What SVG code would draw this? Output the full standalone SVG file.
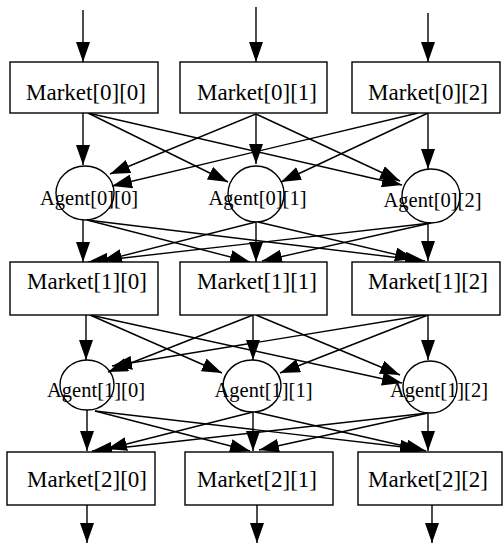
<svg xmlns="http://www.w3.org/2000/svg" width="503" height="549" viewBox="0 0 503 549">
<style>
.box{fill:#fff;stroke:#000;stroke-width:1.4}
.ag{fill:none;stroke:#000;stroke-width:1.4}
.mt{font-family:"Liberation Serif","Times New Roman",serif;font-size:23px;text-anchor:middle;fill:#000}
.at{font-family:"Liberation Serif","Times New Roman",serif;font-size:20.5px;text-anchor:middle;fill:#000}
.c line{stroke:#000;stroke-width:1.4;marker-end:url(#ah)}
</style>
<defs>
<marker id="ah" markerUnits="userSpaceOnUse" markerWidth="21" markerHeight="14" refX="20" refY="7" orient="auto">
<path d="M0,0 L20,7 L0,14 z" fill="#000"/>
</marker>
</defs>
<rect width="503" height="549" fill="#fff"/>
<g id="connectors" class="c">
<line x1="83" y1="10" x2="83" y2="62"/>
<line x1="256" y1="7" x2="256" y2="62"/>
<line x1="428" y1="13" x2="428" y2="62"/>
<line x1="83" y1="113" x2="83" y2="165"/>
<line x1="88" y1="113" x2="228" y2="182"/>
<line x1="88" y1="113" x2="402" y2="185"/>
<line x1="256" y1="114" x2="110" y2="174"/>
<line x1="256" y1="114" x2="256" y2="164"/>
<line x1="256" y1="114" x2="400" y2="181"/>
<line x1="418" y1="113" x2="112" y2="186"/>
<line x1="428" y1="113" x2="281" y2="182"/>
<line x1="428" y1="113" x2="428" y2="169"/>
<line x1="83" y1="220" x2="83" y2="262"/>
<line x1="87" y1="220" x2="250" y2="262"/>
<line x1="87" y1="220" x2="425" y2="261"/>
<line x1="256" y1="222" x2="102" y2="261"/>
<line x1="256" y1="222" x2="256" y2="262"/>
<line x1="258" y1="222" x2="415" y2="259"/>
<line x1="431" y1="223" x2="88" y2="262"/>
<line x1="431" y1="223" x2="262" y2="261"/>
<line x1="428" y1="223" x2="428" y2="261"/>
<line x1="86" y1="315" x2="86" y2="360"/>
<line x1="90" y1="315" x2="222" y2="373"/>
<line x1="90" y1="315" x2="402" y2="383"/>
<line x1="253" y1="315" x2="108" y2="372"/>
<line x1="253" y1="315" x2="253" y2="360"/>
<line x1="256" y1="315" x2="400" y2="375"/>
<line x1="425" y1="315" x2="112" y2="366"/>
<line x1="428" y1="315" x2="280" y2="373"/>
<line x1="428" y1="315" x2="428" y2="360"/>
<line x1="87" y1="410" x2="87" y2="451"/>
<line x1="95" y1="411" x2="250" y2="451"/>
<line x1="95" y1="411" x2="420" y2="449"/>
<line x1="253" y1="412" x2="107" y2="449"/>
<line x1="253" y1="412" x2="253" y2="451"/>
<line x1="255" y1="412" x2="426" y2="451"/>
<line x1="428" y1="413" x2="92" y2="451"/>
<line x1="428" y1="413" x2="259" y2="450"/>
<line x1="428" y1="413" x2="428" y2="451"/>
<line x1="87" y1="505" x2="87" y2="543"/>
<line x1="257" y1="505" x2="257" y2="543"/>
<line x1="432" y1="505" x2="432" y2="543"/>
</g>
<g id="market00"><rect class="box" x="10" y="62" width="148" height="51"/><text class="mt" x="86" y="100">Market[0][0]</text></g>
<g id="market01"><rect class="box" x="180" y="62" width="147" height="51"/><text class="mt" x="257" y="100">Market[0][1]</text></g>
<g id="market02"><rect class="box" x="352" y="62" width="148" height="51"/><text class="mt" x="428" y="100">Market[0][2]</text></g>
<g id="agent00"><ellipse class="ag" cx="85" cy="193" rx="29" ry="27"/><text class="at" x="89" y="205">Agent[0][0]</text></g>
<g id="agent01"><ellipse class="ag" cx="256" cy="194" rx="28" ry="28"/><text class="at" x="257.5" y="205">Agent[0][1]</text></g>
<g id="agent02"><ellipse class="ag" cx="431" cy="196" rx="29" ry="27"/><text class="at" x="432.5" y="207">Agent[0][2]</text></g>
<g id="market10"><rect class="box" x="10" y="262" width="148" height="53"/><text class="mt" x="87" y="289">Market[1][0]</text></g>
<g id="market11"><rect class="box" x="180" y="262" width="147" height="53"/><text class="mt" x="257" y="289">Market[1][1]</text></g>
<g id="market12"><rect class="box" x="352" y="262" width="148" height="53"/><text class="mt" x="428" y="289">Market[1][2]</text></g>
<g id="agent10"><ellipse class="ag" cx="87" cy="385" rx="27" ry="25"/><text class="at" x="96" y="397">Agent[1][0]</text></g>
<g id="agent11"><ellipse class="ag" cx="252" cy="386" rx="29" ry="26"/><text class="at" x="263.5" y="397">Agent[1][1]</text></g>
<g id="agent12"><ellipse class="ag" cx="430" cy="387" rx="27" ry="26"/><text class="at" x="439" y="397">Agent[1][2]</text></g>
<g id="market20"><rect class="box" x="7" y="452" width="148" height="53"/><text class="mt" x="87" y="487">Market[2][0]</text></g>
<g id="market21"><rect class="box" x="185" y="452" width="148" height="53"/><text class="mt" x="257" y="487">Market[2][1]</text></g>
<g id="market22"><rect class="box" x="358" y="452" width="144" height="53"/><text class="mt" x="428" y="487">Market[2][2]</text></g>
</svg>
